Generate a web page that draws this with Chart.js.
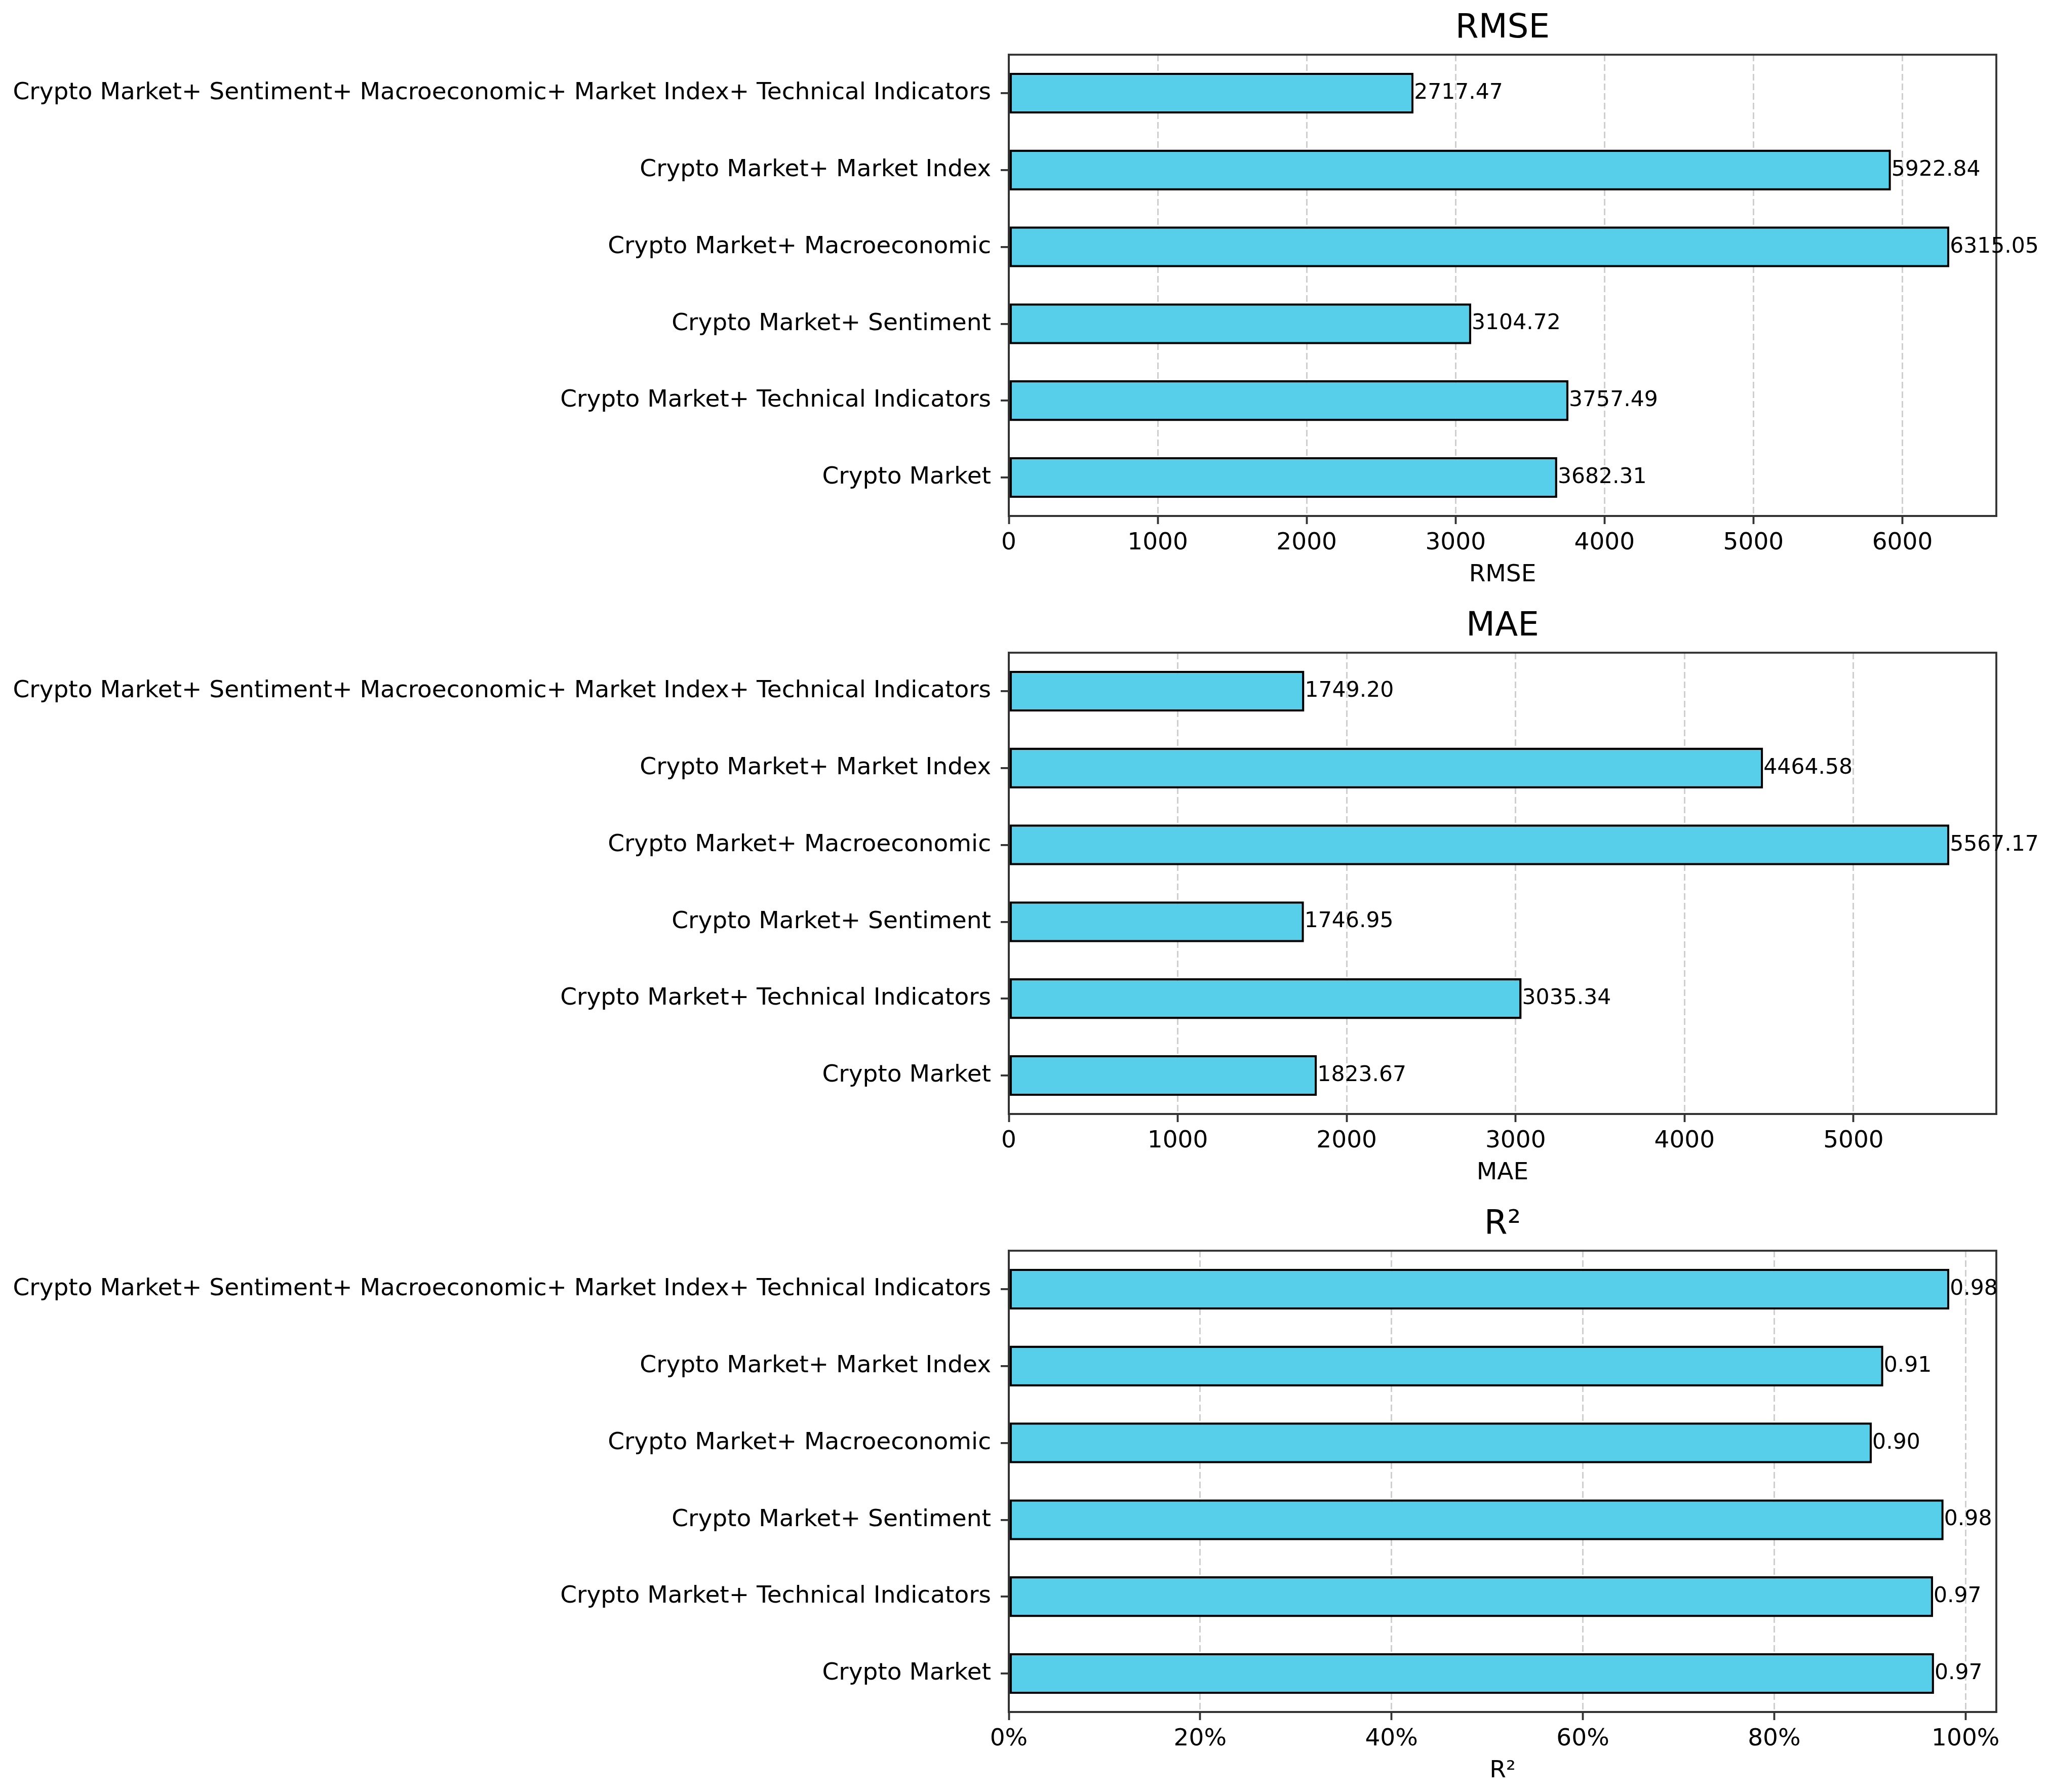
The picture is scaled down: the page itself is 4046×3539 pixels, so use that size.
<!DOCTYPE html>
<html>
<head>
<meta charset="utf-8">
<script src="https://cdn.jsdelivr.net/npm/chart.js@4.4.1/dist/chart.umd.min.js"></script>
<style>
  html, body { margin: 0; padding: 0; background: #fff; }
  body { width: 4046px; height: 3539px; position: relative; overflow: hidden; }
  canvas { position: absolute; left: 0; }
</style>
</head>
<body>
<canvas id="rmse" width="4046" height="1181" style="top:0px"></canvas>
<canvas id="mae" width="4046" height="1181" style="top:1181px"></canvas>
<canvas id="r2" width="4046" height="1181" style="top:2362px"></canvas>
<script>
// feature sets, listed bottom-up like the original barh plot
const featureSets = [
  "Crypto Market",
  "Crypto Market+ Technical Indicators",
  "Crypto Market+ Sentiment",
  "Crypto Market+ Macroeconomic",
  "Crypto Market+ Market Index",
  "Crypto Market+ Sentiment+ Macroeconomic+ Market Index+ Technical Indicators"
];

const rmseValues = [3682.31, 3757.49, 3104.72, 6315.05, 5922.84, 2717.47];
const maeValues = [1823.67, 3035.34, 1746.95, 5567.17, 4464.58, 1749.20];
const r2Values = [0.967, 0.966, 0.977, 0.902, 0.914, 0.983];

const rmseTicks = [0, 1000, 2000, 3000, 4000, 5000, 6000];
const maeTicks = [0, 1000, 2000, 3000, 4000, 5000];
const r2Ticks = [0, 0.2, 0.4, 0.6, 0.8, 1.0];

const FONT = "'DejaVu Sans', sans-serif";
const BAR_COLOR = "#57cfeb";
const SPINE = "#333333";

// title centred over the axes, top/right spines and value labels on top
const decorations = {
  id: "decorations",
  afterDraw(chart) {
    const { ctx, chartArea: a } = chart;
    ctx.save();
    ctx.strokeStyle = SPINE;
    ctx.lineWidth = 3.8;
    ctx.strokeRect(a.left, a.top, a.right - a.left, a.bottom - a.top);

    ctx.fillStyle = "#000";
    ctx.textAlign = "center";
    ctx.textBaseline = "middle";
    ctx.font = "66px " + FONT;
    ctx.fillText(chart.options.plugins.decorations.title, (a.left + a.right) / 2, 57);

    ctx.font = "42.5px " + FONT;
    ctx.textAlign = "left";
    const meta = chart.getDatasetMeta(0);
    const vals = chart.data.datasets[0].data;
    meta.data.forEach((bar, i) => {
      ctx.fillText(vals[i].toFixed(2), bar.x + 1, bar.y);
    });
    ctx.restore();
  }
};

function makeChart(id, name, values, ticks, tickFmt) {
  const xMax = Math.max(...values) * 1.05;
  return new Chart(document.getElementById(id), {
    type: "bar",
    data: {
      labels: featureSets,
      datasets: [{
        data: values,
        backgroundColor: BAR_COLOR,
        borderColor: "#000",
        borderWidth: 4.5,
        borderSkipped: false,
        categoryPercentage: 1,
        barPercentage: 0.53
      }]
    },
    options: {
      indexAxis: "y",
      responsive: false,
      animation: false,
      devicePixelRatio: 1,
      layout: { padding: { left: 0, right: 104, top: 108, bottom: 0 } },
      plugins: {
        legend: { display: false },
        tooltip: { enabled: false },
        title: { display: false },
        decorations: { title: name }
      },
      scales: {
        x: {
          min: 0,
          max: xMax,
          z: 1,
          afterBuildTicks: (s) => { s.ticks = ticks.map((v) => ({ value: v })); },
          afterFit: (s) => { s.height = 162; },
          grid: {
            color: "rgba(160,160,160,0.5)",
            lineWidth: 3,
            drawTicks: true,
            tickLength: 16,
            tickColor: SPINE,
            tickWidth: 3.8
          },
          border: { display: true, color: SPINE, width: 3.8, dash: [13, 6] },
          ticks: {
            color: "#000",
            font: { family: FONT, size: 47 },
            padding: 10,
            maxRotation: 0,
            callback: (v) => tickFmt(v)
          },
          title: {
            display: true,
            text: name,
            color: "#000",
            font: { family: FONT, size: 47 },
            padding: { top: 0, bottom: 17 }
          }
        },
        y: {
          reverse: true,
          afterFit: (s) => { s.width = 1992; },
          grid: {
            display: true,
            drawOnChartArea: false,
            offset: false,
            tickLength: 16,
            color: SPINE,
            lineWidth: 3.8,
            tickColor: SPINE,
            tickWidth: 3.8
          },
          border: { display: true, color: SPINE, width: 3.8 },
          ticks: {
            color: "#000",
            font: { family: FONT, size: 47 },
            padding: 19,
            autoSkip: false
          }
        }
      }
    },
    plugins: [decorations]
  });
}

makeChart("rmse", "RMSE", rmseValues, rmseTicks, (v) => String(v));
makeChart("mae", "MAE", maeValues, maeTicks, (v) => String(v));
makeChart("r2", "R²", r2Values, r2Ticks, (v) => Math.round(v * 100) + "%");
</script>
</body>
</html>
